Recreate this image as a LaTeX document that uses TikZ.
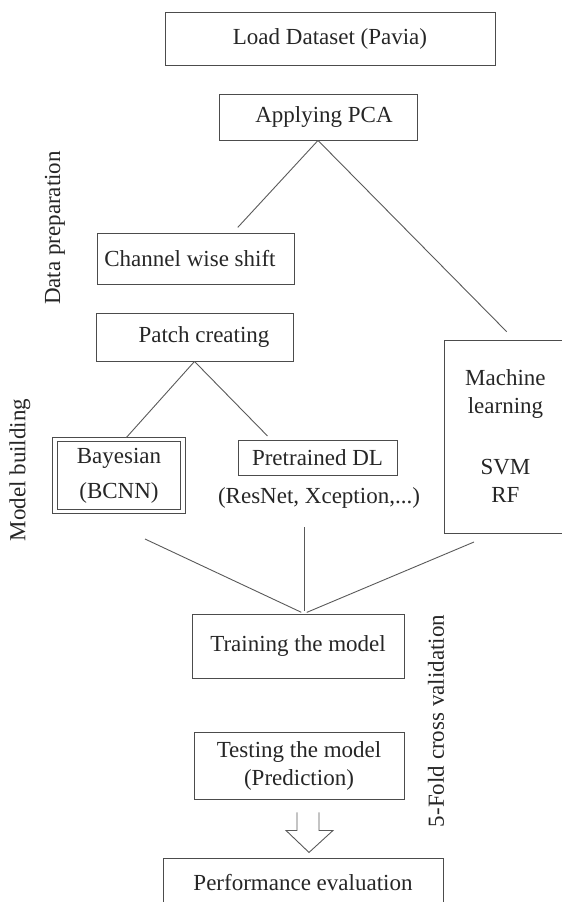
\documentclass[tikz,border=0pt]{standalone}
\usepackage{fontspec}
\setmainfont{Liberation Serif}
\usetikzlibrary{positioning}

\begin{document}
\begin{tikzpicture}[x=1pt, y=-1pt,
	every node/.style={font=\fontsize{23}{28}\selectfont},
	box/.style={draw=black!70, line width=0.9pt, text=black!85, inner sep=0pt, align=center},
	tag/.style={text=black!85, inner sep=0pt, align=center},
	link/.style={draw=black!65, line width=0.9pt}]
	\useasboundingbox (0,0) rectangle (562,902);
	\clip (0,0) rectangle (562,902);

	\node[box, minimum width=330pt, minimum height=53pt] (load) at (330,38.5) {Load Dataset (Pavia)};
	\node[box, minimum width=198pt, minimum height=46pt] (pca) at (318,117) {\hspace*{12pt}Applying PCA};
	\node[box, minimum width=197pt, minimum height=51pt] (shift) at (195.5,258.5) {Channel wise shift\hspace*{11pt}};
	\node[box, minimum width=197pt, minimum height=48pt] (patch) at (194.5,337) {\hspace*{19pt}Patch creating};
	\node[box, double, double distance=3.5pt, minimum width=128pt, minimum height=72pt] (bayes) at (119,475.5) {Bayesian\\[7pt](BCNN)};
	\node[box, minimum width=159pt, minimum height=35pt] (pre) at (317.5,457.5) {Pretrained DL};
	\node[tag] (net) at (319,498) {(ResNet, Xception,...)};
	\node[box, anchor=west, text width=112pt, inner xsep=5pt, minimum height=193pt] (ml) at (444,436.5) {Machine\\learning\\[33pt]SVM\\RF};
	\node[box, minimum width=212pt, minimum height=64pt] (train) at (298,646) {Training the model};
	\node[box, minimum width=210pt, minimum height=67pt] (test) at (299,765.5) {Testing the model\\(Prediction)};
	\node[box, minimum width=280pt, minimum height=50pt] (perf) at (303,883) {Performance evaluation};

	\node[tag, rotate=90] (prep) at (55,228) {Data preparation};
	\node[tag, rotate=90] (build) at (20,470) {Model building};
	\node[tag, rotate=90] (fold) at (436,721) {5-Fold cross validation};

	\coordinate (c1) at (145,539);
	\coordinate (c2) at (304,527);
	\coordinate (c3) at (474,542);
	\coordinate (m) at ([xshift=6pt]train.north);
	\coordinate (a) at ([xshift=9pt, yshift=-13pt]test.south);

	\draw[link, shorten >=7pt] (pca.south) -- ([xshift=37.5pt]shift.north);
	\draw[link, shorten >=11pt] (pca.south) -- ([xshift=9pt]ml.north);
	\draw[link, shorten >=2pt] (patch.south) -- ([xshift=6pt]bayes.north);
	\draw[link, shorten >=5pt] (patch.south) -- ([xshift=-46.5pt]pre.north);
	\draw[link, shorten >=3pt] (c1) -- (m);
	\draw[link, shorten >=3pt] (c2) -- (m);
	\draw[link, shorten >=3pt] (c3) -- (m);
	\draw[link] ([xshift=-11pt]a) -- ++(0,18) -- ++(-11,0) -- ++(23,22) -- ++(24,-22) -- ++(-14,0) -- ++(0,-18);
\end{tikzpicture}
\end{document}
